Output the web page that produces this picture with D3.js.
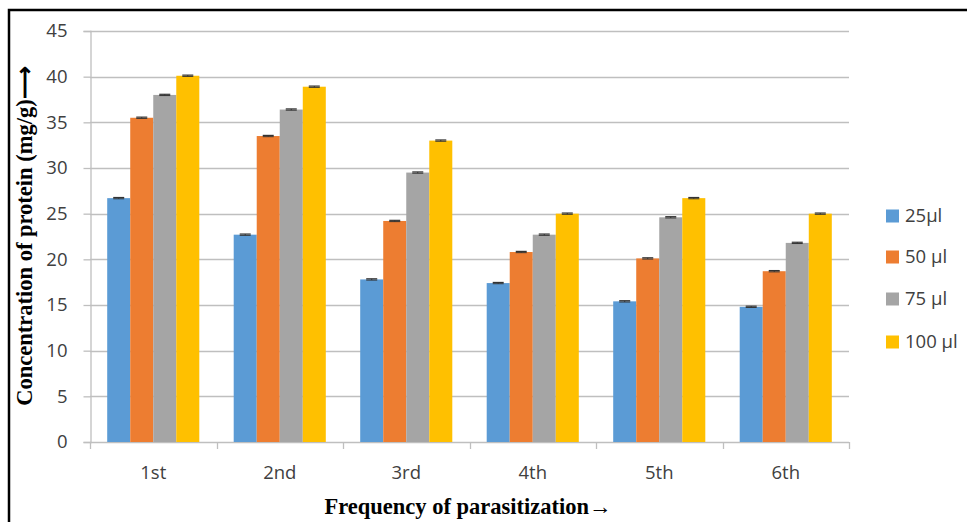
<!DOCTYPE html>
<html>
<head>
<meta charset="utf-8">
<script src="https://cdn.jsdelivr.net/npm/d3@7/dist/d3.min.js"></script>
<style>
  body { margin: 0; background: #fff; }
  svg { display: block; }
</style>
</head>
<body>
<svg id="chart" width="967" height="522"></svg>
<script>
const categories = ["1st", "2nd", "3rd", "4th", "5th", "6th"];
const seriesNames = ["25\u03bcl", "50 \u03bcl", "75 \u03bcl", "100 \u03bcl"];
const s25 = [26.7, 22.7, 17.8, 17.4, 15.4, 14.8];
const s50 = [35.5, 33.5, 24.2, 20.8, 20.1, 18.7];
const s75 = [38.0, 36.4, 29.5, 22.7, 24.6, 21.8];
const s100 = [40.1, 38.9, 33.0, 25.0, 26.7, 25.0];
const errors = [0.07, 0.07, 0.07, 0.07];
const yTicks = [0, 5, 10, 15, 20, 25, 30, 35, 40, 45];
const colors = ["#5b9bd5", "#ed7d31", "#a5a5a5", "#ffc000"];
const yTitle = "Concentration of protein (mg/g)\u27f6";
const xTitle = "Frequency of parasitization\u2192";

(function () {
const seriesValues = [s25, s50, s75, s100];

const svg = d3.select("#chart");
const W = 967, H = 522;

// outer frame
svg.append("rect").attr("x", 9).attr("y", 10).attr("width", W + 20).attr("height", H + 20)
  .attr("fill", "none").attr("stroke", "#000").attr("stroke-width", 2.5);

const pLeft = 90, pRight = 849, pTop = 31, pBottom = 442;
const x = d3.scaleBand().domain(categories).range([pLeft, pRight]).paddingInner(0.272).paddingOuter(0.136);
const xs = d3.scaleBand().domain(d3.range(seriesNames.length)).range([0, x.bandwidth()]).padding(0);
const y = d3.scaleLinear().domain([0, 45]).range([pBottom, pTop]);

const tickFont = "'Open Sans', 'Liberation Sans', sans-serif";

// gridlines
svg.append("g").selectAll("line").data(yTicks.filter(d => d > 0)).join("line")
  .attr("x1", pLeft).attr("x2", pRight)
  .attr("y1", d => Math.round(y(d)) + 0.5).attr("y2", d => Math.round(y(d)) + 0.5)
  .attr("stroke", "#bfbfbf").attr("stroke-width", 1.3);

// y axis
const yAxis = d3.axisLeft(y).tickValues(yTicks).tickSize(7).tickPadding(16);
const gy = svg.append("g").attr("transform", `translate(${pLeft + 0.5},0)`).call(yAxis);
gy.select(".domain").attr("stroke", "#bfbfbf").attr("stroke-width", 1.3);
gy.selectAll(".tick line").attr("stroke", "#bfbfbf").attr("stroke-width", 1.3);
gy.selectAll(".tick text").attr("font-family", tickFont).attr("font-size", 18.5).attr("fill", "#404040");

// x axis
const xBounds = d3.range(categories.length + 1).map(i => pLeft + i * (pRight - pLeft) / categories.length);
svg.append("line").attr("x1", pLeft).attr("x2", pRight)
  .attr("y1", pBottom + 0.5).attr("y2", pBottom + 0.5).attr("stroke", "#bfbfbf").attr("stroke-width", 1.3);
svg.append("g").selectAll("line").data(xBounds).join("line")
  .attr("x1", d => Math.round(d) + 0.5).attr("x2", d => Math.round(d) + 0.5)
  .attr("y1", pBottom).attr("y2", pBottom + 7).attr("stroke", "#bfbfbf").attr("stroke-width", 1.3);
svg.append("g").selectAll("text").data(categories).join("text")
  .attr("x", d => x(d) + x.bandwidth() / 2).attr("y", 479)
  .attr("text-anchor", "middle")
  .attr("font-family", tickFont).attr("font-size", 18.5).attr("fill", "#404040")
  .text(d => d);

// bars
const groups = svg.append("g").selectAll("g").data(categories).join("g")
  .attr("transform", d => `translate(${x(d)},0)`);
groups.selectAll("rect").data((c, i) => seriesValues.map((s, j) => ({ j, v: s[i] }))).join("rect")
  .attr("x", d => xs(d.j)).attr("width", xs.bandwidth())
  .attr("y", d => y(d.v)).attr("height", d => y(0) - y(d.v))
  .attr("fill", d => colors[d.j]);

// error bars
const eb = groups.selectAll("g.err").data((c, i) => seriesValues.map((s, j) => ({ j, v: s[i], e: errors[j] }))).join("g").attr("class", "err");
eb.append("line")
  .attr("x1", d => xs(d.j) + xs.bandwidth() / 2).attr("x2", d => xs(d.j) + xs.bandwidth() / 2)
  .attr("y1", d => y(d.v + d.e)).attr("y2", d => y(d.v - d.e))
  .attr("stroke", "#333").attr("stroke-width", 1);
eb.append("line")
  .attr("x1", d => xs(d.j) + xs.bandwidth() / 2 - 5.5).attr("x2", d => xs(d.j) + xs.bandwidth() / 2 + 5.5)
  .attr("y1", d => y(d.v + d.e)).attr("y2", d => y(d.v + d.e))
  .attr("stroke", "#333").attr("stroke-width", 1.2);
eb.append("line")
  .attr("x1", d => xs(d.j) + xs.bandwidth() / 2 - 5.5).attr("x2", d => xs(d.j) + xs.bandwidth() / 2 + 5.5)
  .attr("y1", d => y(d.v - d.e)).attr("y2", d => y(d.v - d.e))
  .attr("stroke", "#333").attr("stroke-width", 1);

// legend
const legendY = [216, 257, 299, 342];
const lg = svg.append("g").selectAll("g").data(seriesNames).join("g")
  .attr("transform", (d, i) => `translate(886,${legendY[i]})`);
lg.append("rect").attr("x", 0).attr("y", -6.5).attr("width", 13).attr("height", 13)
  .attr("fill", (d, i) => colors[i]);
lg.append("text").attr("x", 19).attr("y", 0).attr("dy", "0.35em")
  .attr("font-family", tickFont).attr("font-size", 18.5).attr("fill", "#404040")
  .text(d => d);

// axis titles
svg.append("text")
  .attr("transform", "translate(32,236) rotate(-90)")
  .attr("text-anchor", "middle")
  .attr("font-family", "'Liberation Serif', 'Times New Roman', serif")
  .attr("font-weight", "bold").attr("font-size", 22.5).attr("fill", "#000")
  .text(yTitle);
svg.append("text")
  .attr("x", 468).attr("y", 514)
  .attr("text-anchor", "middle")
  .attr("font-family", "'Liberation Serif', 'Times New Roman', serif")
  .attr("font-weight", "bold").attr("font-size", 22.5).attr("fill", "#000")
  .text(xTitle);
})();
</script>
</body>
</html>
